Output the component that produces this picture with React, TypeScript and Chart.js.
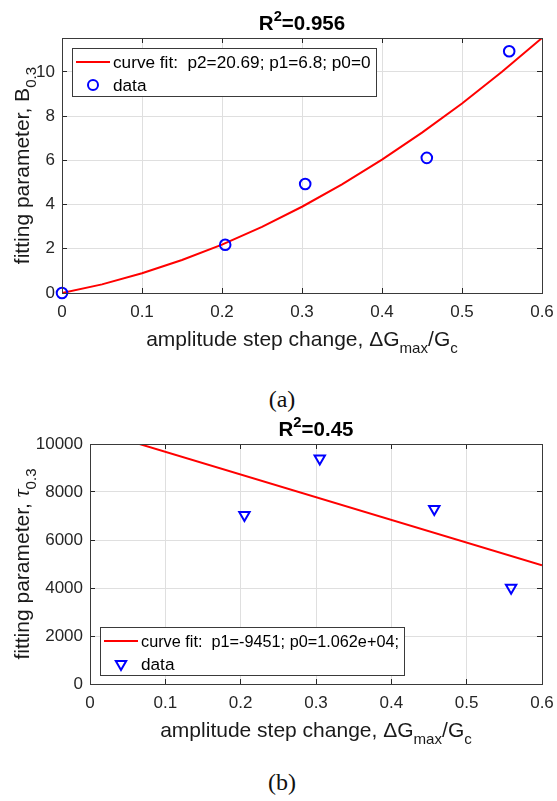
import React, { useEffect, useRef } from "react";
import { Chart, registerables } from "chart.js";

Chart.register(...registerables);

const SANS = '"Liberation Sans", Arial, Helvetica, sans-serif';
const SERIF = '"Liberation Serif", "Times New Roman", serif';
const INK = "#262626";
const GRID = "#dfdfdf";

// ---------------- data ----------------
// (a) fitting parameter B_0.3
const stepChange = [0, 0.204, 0.304, 0.456, 0.559];
const bValues = [0, 2.18, 4.93, 6.11, 10.93];
const fitAX = [0, 0.05, 0.1, 0.15, 0.2, 0.25, 0.3, 0.35, 0.4, 0.45, 0.5, 0.55, 0.6];
const fitAY = [0, 0.39, 0.89, 1.49, 2.19, 2.99, 3.9, 4.91, 6.03, 7.25, 8.57, 10.0, 11.53];
// (b) fitting parameter tau_0.3
const tauStep = [0.205, 0.305, 0.457, 0.559];
const tauValues = [7040, 9400, 7290, 4010];
const fitBX = [0, 0.6];
const fitBY = [10620, 4949];
// axes
const xTickValues = [0, 0.1, 0.2, 0.3, 0.4, 0.5, 0.6];
const yTicksA = [0, 2, 4, 6, 8, 10];
const yTicksB = [0, 2000, 4000, 6000, 8000, 10000];
const yMaxA = 11.53;
const yMaxB = 10000;
// text
const legendFitA = "curve fit:  p2=20.69; p1=6.8; p0=0";
const legendFitB = "curve fit:  p1=-9451; p0=1.062e+04;";
const legendData = "data";
const r2A = "0.956";
const r2B = "0.45";

type Seg = { t: string; sub?: boolean; sup?: boolean; serifItalic?: boolean };

const xLabelSegs: Seg[] = [
  { t: "amplitude step change, \u0394G" },
  { t: "max", sub: true },
  { t: "/G" },
  { t: "c", sub: true },
];
const yLabelA: Seg[] = [{ t: "fitting parameter, B" }, { t: "0.3", sub: true }];
const yLabelB: Seg[] = [
  { t: "fitting parameter, " },
  { t: "\u03C4", serifItalic: true },
  { t: "0.3", sub: true },
];

const LABEL_SIZE = 21;
const TITLE_SIZE = 20.5;
const TICK_SIZE = 17;
const LEGEND_SIZE = 17.2;
const LEGEND_TEXT_W = 258;

function drawRich(
  ctx: CanvasRenderingContext2D,
  segs: Seg[],
  x: number,
  y: number,
  size: number,
  bold: boolean
) {
  const fontFor = (s: Seg) => {
    const sz = s.sub || s.sup ? size * 0.72 : size;
    if (s.serifItalic) return `italic ${size * 1.05}px ${SERIF}`;
    return `${bold ? "bold " : ""}${sz}px ${SANS}`;
  };
  const widths = segs.map((s) => {
    ctx.font = fontFor(s);
    return ctx.measureText(s.t).width;
  });
  const total = widths.reduce((p, c) => p + c, 0);
  let cx = x - total / 2;
  ctx.textAlign = "left";
  ctx.textBaseline = "alphabetic";
  segs.forEach((s, i) => {
    ctx.font = fontFor(s);
    const dy = s.sub ? size * 0.32 : s.sup ? -size * 0.42 : 0;
    ctx.fillText(s.t, cx, y + dy);
    cx += widths[i];
  });
}

type Panel = {
  fitX: number[];
  fitY: number[];
  dataX: number[];
  dataY: number[];
  marker: "circle" | "triangle";
  yMax: number;
  yTicks: number[];
  yAxisWidth: number;
  padTop: number;
  xAxisHeight: number;
  r2: string;
  yLabel: Seg[];
  legendText: string;
  legendAnchor: "top" | "bottom";
};

function drawMarker(ctx: CanvasRenderingContext2D, kind: string, x: number, y: number) {
  ctx.beginPath();
  if (kind === "circle") {
    ctx.arc(x, y, 5, 0, Math.PI * 2);
  } else {
    const r = 6;
    let rad = Math.PI;
    ctx.moveTo(x + Math.sin(rad) * r, y - Math.cos(rad) * r);
    rad += (2 * Math.PI) / 3;
    ctx.lineTo(x + Math.sin(rad) * r, y - Math.cos(rad) * r);
    rad += (2 * Math.PI) / 3;
    ctx.lineTo(x + Math.sin(rad) * r, y - Math.cos(rad) * r);
    ctx.closePath();
  }
  ctx.strokeStyle = "#0000ff";
  ctx.lineWidth = 2;
  ctx.stroke();
}

const align = (p: number) => Math.round(p - 0.5) + 0.5;

function decorPlugin(p: Panel) {
  return {
    id: "decor",
    afterDraw(chart: any) {
      const ctx: CanvasRenderingContext2D = chart.ctx;
      const a = chart.chartArea;
      const xs = chart.scales.x;
      const ys = chart.scales.y;
      ctx.save();
      // inner tick marks
      ctx.strokeStyle = INK;
      ctx.lineWidth = 1;
      ctx.beginPath();
      xTickValues.forEach((v) => {
        const px = align(xs.getPixelForValue(v));
        ctx.moveTo(px, a.bottom);
        ctx.lineTo(px, a.bottom - 5);
        ctx.moveTo(px, a.top);
        ctx.lineTo(px, a.top + 5);
      });
      p.yTicks.forEach((v) => {
        const py = align(ys.getPixelForValue(v));
        ctx.moveTo(a.left, py);
        ctx.lineTo(a.left + 5, py);
        ctx.moveTo(a.right, py);
        ctx.lineTo(a.right - 5, py);
      });
      ctx.stroke();
      // box
      ctx.strokeStyle = "#3a3a3a";
      ctx.strokeRect(align(a.left), align(a.top), Math.round(a.right - a.left), Math.round(a.bottom - a.top));

      // legend
      const bw = Math.round(41 + LEGEND_TEXT_W + 5);
      const bh = 48;
      const bx = Math.round(a.left + 10);
      const by = p.legendAnchor === "top" ? Math.round(a.top + 10) : Math.round(a.bottom - 9 - bh);
      ctx.fillStyle = "#ffffff";
      ctx.fillRect(bx, by, bw, bh);
      ctx.strokeStyle = "#3a3a3a";
      ctx.lineWidth = 1;
      ctx.strokeRect(bx + 0.5, by + 0.5, bw, bh);
      const row1 = by + 14;
      const row2 = by + 37;
      ctx.beginPath();
      ctx.moveTo(bx + 4, row1);
      ctx.lineTo(bx + 38, row1);
      ctx.strokeStyle = "#ff0000";
      ctx.lineWidth = 2;
      ctx.stroke();
      drawMarker(ctx, p.marker, bx + 21, row2);
      ctx.fillStyle = "#000000";
      ctx.textAlign = "left";
      ctx.textBaseline = "middle";
      ctx.font = `${LEGEND_SIZE}px ${SANS}`;
      ctx.fillText(p.legendText, bx + 41, row1 + 1, LEGEND_TEXT_W);
      ctx.fillText(legendData, bx + 41, row2 + 1);

      // title
      ctx.fillStyle = "#000000";
      const cx = (a.left + a.right) / 2;
      drawRich(ctx, [{ t: "R" }, { t: "2", sup: true }, { t: "=" + p.r2 }], cx, a.top - 8, TITLE_SIZE, true);
      // x label
      ctx.fillStyle = "#1a1a1a";
      drawRich(ctx, xLabelSegs, cx, a.bottom + 53, LABEL_SIZE, false);
      // y label
      ctx.save();
      ctx.translate(29, (a.top + a.bottom) / 2);
      ctx.rotate(-Math.PI / 2);
      drawRich(ctx, p.yLabel, 0, 0, LABEL_SIZE, false);
      ctx.restore();
      ctx.restore();
    },
  };
}

function makeConfig(p: Panel): any {
  return {
    type: "scatter",
    data: {
      datasets: [
        {
          type: "line",
          data: p.fitX.map((x, i) => ({ x, y: p.fitY[i] })),
          borderColor: "#ff0000",
          borderWidth: 2,
          pointRadius: 0,
          fill: false,
          tension: 0,
          clip: 0,
          order: 2,
        },
        {
          type: "scatter",
          data: p.dataX.map((x, i) => ({ x, y: p.dataY[i] })),
          pointStyle: p.marker,
          rotation: p.marker === "triangle" ? 180 : 0,
          pointRadius: p.marker === "triangle" ? 6 : 5.3,
          pointHoverRadius: p.marker === "triangle" ? 6 : 5.3,
          borderColor: "#0000ff",
          backgroundColor: "rgba(0,0,0,0)",
          borderWidth: 2,
          clip: false,
          order: 1,
        },
      ],
    },
    options: {
      responsive: false,
      animation: false,
      devicePixelRatio: 1,
      events: [],
      layout: { padding: { left: 0, top: p.padTop, right: 15, bottom: 0 } },
      plugins: {
        legend: { display: false },
        title: { display: false },
        tooltip: { enabled: false },
      },
      scales: {
        x: {
          type: "linear",
          position: "bottom",
          min: 0,
          max: 0.6,
          afterBuildTicks: (s: any) => {
            s.ticks = xTickValues.map((v) => ({ value: v }));
          },
          afterFit: (s: any) => {
            s.height = p.xAxisHeight;
            s.paddingLeft = 0;
            s.paddingRight = 0;
          },
          ticks: {
            autoSkip: false,
            maxRotation: 0,
            padding: 9,
            color: INK,
            font: { family: SANS, size: TICK_SIZE },
            callback: (v: number) => (v === 0 ? "0" : v.toFixed(1)),
          },
          grid: { color: GRID, lineWidth: 1, drawTicks: false },
          border: { display: false },
        },
        y: {
          type: "linear",
          position: "left",
          min: 0,
          max: p.yMax,
          afterBuildTicks: (s: any) => {
            s.ticks = p.yTicks.map((v) => ({ value: v }));
          },
          afterFit: (s: any) => {
            s.width = p.yAxisWidth;
            s.paddingTop = 0;
            s.paddingBottom = 0;
          },
          ticks: {
            autoSkip: false,
            padding: 7,
            color: INK,
            font: { family: SANS, size: TICK_SIZE },
            callback: (v: number) => String(v),
          },
          grid: { color: GRID, lineWidth: 1, drawTicks: false },
          border: { display: false },
        },
      },
    },
    plugins: [decorPlugin(p)],
  };
}

const panelA: Panel = {
  fitX: fitAX,
  fitY: fitAY,
  dataX: stepChange,
  dataY: bValues,
  marker: "circle",
  yMax: yMaxA,
  yTicks: yTicksA,
  yAxisWidth: 62,
  padTop: 38,
  xAxisHeight: 372 - 293,
  r2: r2A,
  yLabel: yLabelA,
  legendText: legendFitA,
  legendAnchor: "top",
};

const panelB: Panel = {
  fitX: fitBX,
  fitY: fitBY,
  dataX: tauStep,
  dataY: tauValues,
  marker: "triangle",
  yMax: yMaxB,
  yTicks: yTicksB,
  yAxisWidth: 90,
  padTop: 34,
  xAxisHeight: 345 - 274,
  r2: r2B,
  yLabel: yLabelB,
  legendText: legendFitB,
  legendAnchor: "bottom",
};

function ChartCanvas(props: { panel: Panel; top: number; height: number }) {
  const ref = useRef<HTMLCanvasElement | null>(null);
  useEffect(() => {
    if (!ref.current) return;
    const chart = new Chart(ref.current, makeConfig(props.panel));
    return () => chart.destroy();
  }, []);
  return (
    <canvas
      ref={ref}
      width={557}
      height={props.height}
      style={{ position: "absolute", left: 0, top: props.top, width: 557, height: props.height }}
    />
  );
}

function Caption(props: { text: string; top: number }) {
  return (
    <div
      style={{
        position: "absolute",
        left: 0,
        top: props.top,
        width: 564,
        textAlign: "center",
        fontFamily: SERIF,
        fontSize: 24,
        lineHeight: "24px",
        color: "#111",
      }}
    >
      {props.text}
    </div>
  );
}

export default function App() {
  return (
    <div
      style={{
        position: "fixed",
        left: 0,
        top: 0,
        width: 557,
        height: 801,
        background: "#ffffff",
        overflow: "hidden",
      }}
    >
      <ChartCanvas panel={panelA} top={0} height={372} />
      <Caption text="(a)" top={387} />
      <ChartCanvas panel={panelB} top={410} height={345} />
      <Caption text="(b)" top={770} />
    </div>
  );
}
